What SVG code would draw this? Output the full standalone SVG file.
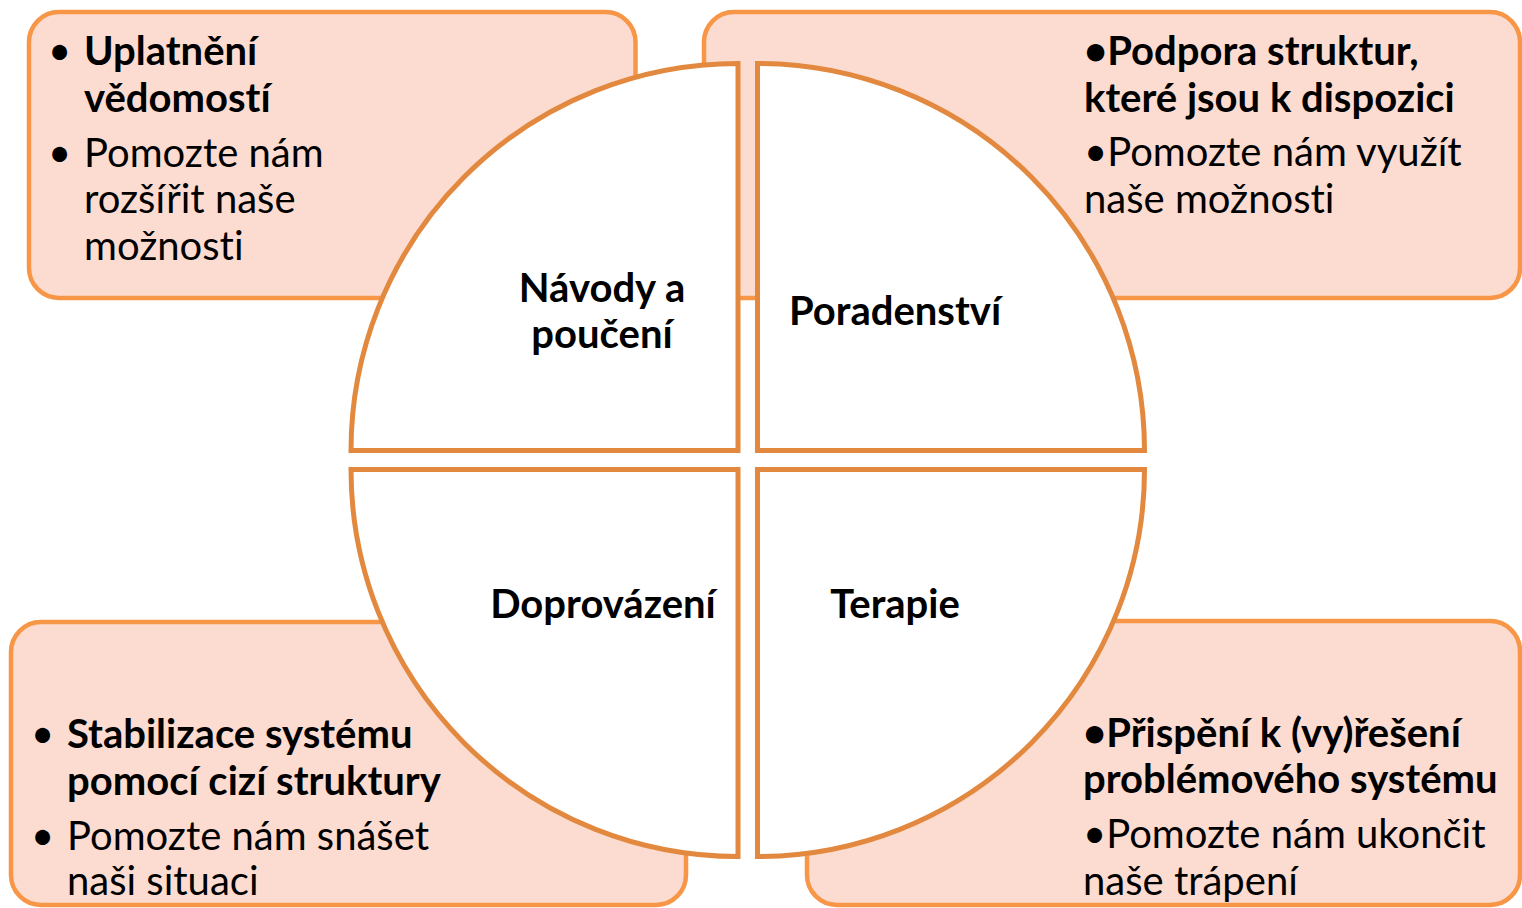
<svg xmlns="http://www.w3.org/2000/svg" width="1522" height="908" viewBox="0 0 1522 908">
<style>
.box{fill:#FCDCD0;stroke:#F79646;stroke-width:4.5}
.pie{fill:#FFFFFF;stroke:#E2893F;stroke-width:5;stroke-linejoin:miter}
text{font-family:Lato,"Noto Sans","Liberation Sans",sans-serif;font-size:40px;fill:#000;font-variant-ligatures:none;font-feature-settings:"liga" 0,"dlig" 0}
.b{font-weight:bold}
.c{text-anchor:middle;font-weight:bold}
</style>
<rect width="1522" height="908" fill="#FFFFFF"/>
<g id="box-tl">
<rect class="box" x="29" y="12" width="606.5" height="286" rx="30"/>
<text x="48" y="65">•</text><text class="b" x="84" y="65">Uplatnění</text>
<text class="b" x="84" y="112">vědomostí</text>
<text x="48" y="167">•</text><text x="84" y="167">Pomozte nám</text>
<text x="84" y="213">rozšířit naše</text>
<text x="84" y="260">možnosti</text>
</g>
<g id="box-tr">
<rect class="box" x="704" y="12" width="816" height="286" rx="30"/>
<text class="b" x="1084" y="65">•Podpora struktur,</text>
<text class="b" x="1084" y="112">které jsou k dispozici</text>
<text x="1084" y="166">•Pomozte nám využít</text>
<text x="1084" y="213">naše možnosti</text>
</g>
<g id="box-bl">
<rect class="box" x="11" y="622" width="675" height="283" rx="30"/>
<text x="31" y="748">•</text><text class="b" x="67" y="748">Stabilizace systému</text>
<text class="b" x="67" y="795">pomocí cizí struktury</text>
<text x="31" y="850">•</text><text x="67" y="850">Pomozte nám snášet</text>
<text x="67" y="895">naši situaci</text>
</g>
<g id="box-br">
<rect class="box" x="807" y="621" width="713" height="284" rx="30"/>
<text class="b" x="1083" y="747">•Přispění k (vy)řešení</text>
<text class="b" x="1083" y="793">problémového systému</text>
<text x="1083" y="848">•Pomozte nám ukončit</text>
<text x="1083" y="895">naše trápení</text>
</g>
<g id="pie-tl">
<path class="pie" d="M738,450.5 L351,450.5 A387,387 0 0 1 738,63.5 Z"/>
<text class="c" x="602" y="302">Návody a</text>
<text class="c" x="602" y="348">poučení</text>
</g>
<g id="pie-tr">
<path class="pie" d="M757.5,450.5 L757.5,63.5 A387,387 0 0 1 1144.5,450.5 Z"/>
<text class="c" x="895" y="325">Poradenství</text>
</g>
<g id="pie-bl">
<path class="pie" d="M738,469.5 L738,856.5 A387,387 0 0 1 351,469.5 Z"/>
<text class="c" x="603" y="618">Doprovázení</text>
</g>
<g id="pie-br">
<path class="pie" d="M757.5,469.5 L1144.5,469.5 A387,387 0 0 1 757.5,856.5 Z"/>
<text class="c" x="895" y="618">Terapie</text>
</g>
<g id="connectors"/>
</svg>
